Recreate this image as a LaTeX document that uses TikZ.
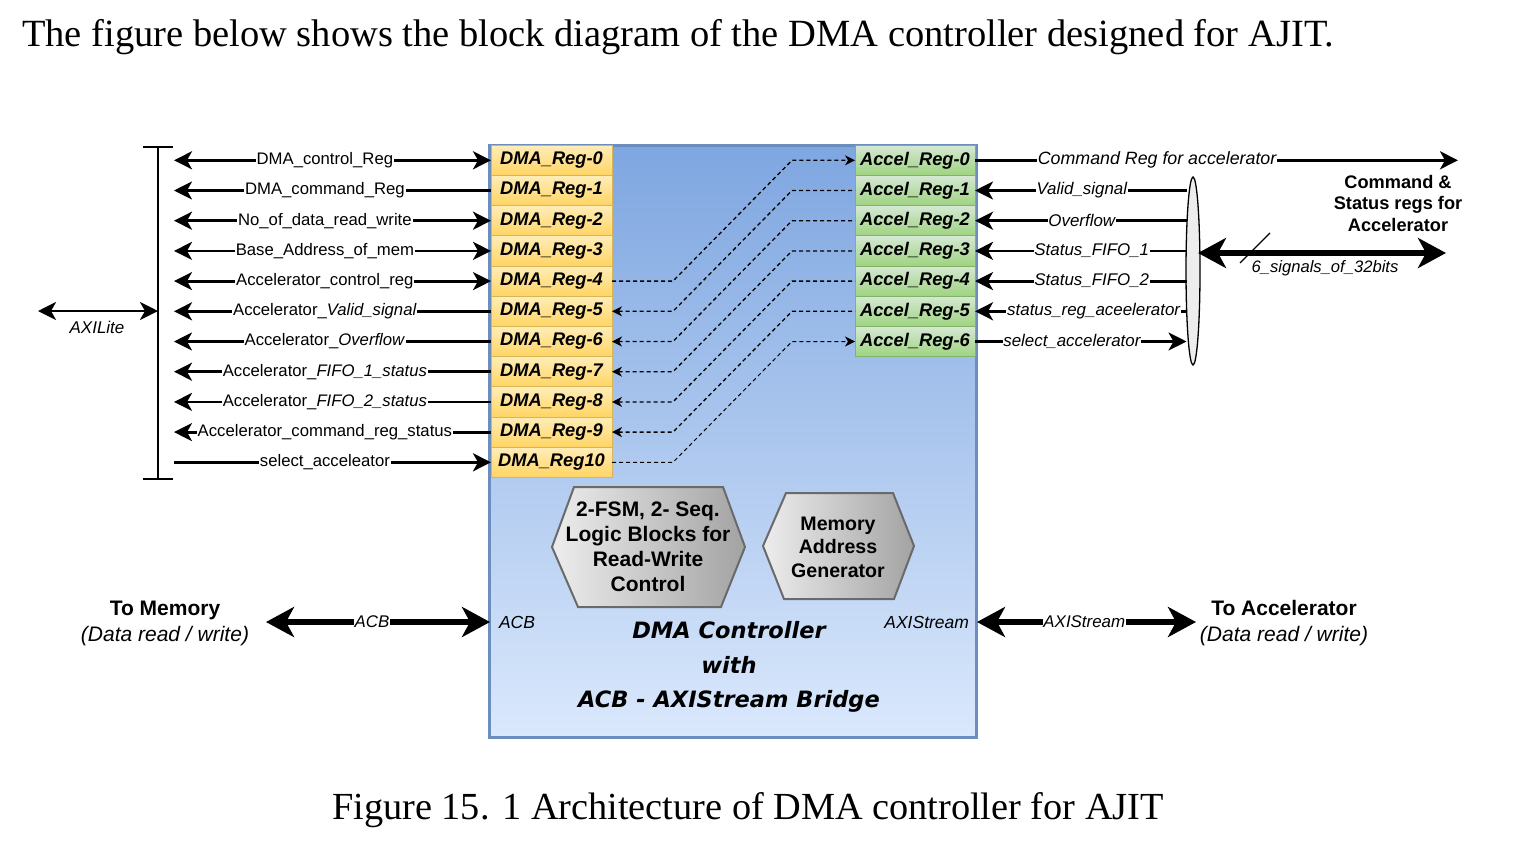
\documentclass[tikz,border=0pt]{standalone}
\usepackage{fontspec}
\setmainfont{Liberation Serif}
\setsansfont{Liberation Sans}
\newfontfamily\comicf{DejaVu Sans}
\usetikzlibrary{arrows.meta,shapes.geometric,calc}
\definecolor{boxB}{HTML}{6C8EBF}
\definecolor{boxTop}{HTML}{7EA6E0}
\definecolor{boxBot}{HTML}{DAE8FC}
\definecolor{yTop}{HTML}{FFEDB8}
\definecolor{yBot}{HTML}{FFD463}
\definecolor{yB}{HTML}{D6B656}
\definecolor{gTop}{HTML}{D5E8D4}
\definecolor{gBot}{HTML}{9ED37F}
\definecolor{gB}{HTML}{82B366}
\definecolor{hexL}{HTML}{EDEDED}
\definecolor{hexR}{HTML}{A3A3A3}
\definecolor{hexB}{HTML}{6A6A6A}
\definecolor{ellF}{HTML}{EDEDED}
\begin{document}
\begin{tikzpicture}[x=1pt,y=-1pt,
  every node/.style={inner sep=0pt,outer sep=0pt},
  >={Stealth[length=18pt,width=18pt,inset=5pt]},
  sig/.style={font=\sffamily\fontsize{16.7}{17}\selectfont,fill=white,inner sep=0.8pt},
  rsig/.style={font=\sffamily\itshape\fontsize{16.9}{17}\selectfont,fill=white,inner sep=0.8pt},
  wire/.style={line width=2.8pt},
  fat/.style={line width=5.5pt,arrows={Stealth[length=28pt,width=30pt,inset=8pt]-Stealth[length=28pt,width=30pt,inset=8pt]}},
  dsh/.style={line width=1.3pt,dash pattern=on 4pt off 3pt,arrows={-Stealth[length=10pt,width=10pt,inset=3pt]}},
  dshb/.style={line width=1.3pt,dash pattern=on 4pt off 3pt,arrows={Stealth[length=10pt,width=10pt,inset=3pt]-}},
  dmareg/.style={draw=yB,line width=0.8pt,top color=yTop,bottom color=yBot,minimum width=121pt,minimum height=30.2pt,
    font=\sffamily\bfseries\itshape\fontsize{18.3}{20}\selectfont},
  accreg/.style={draw=gB,line width=0.8pt,top color=gTop,bottom color=gBot,minimum width=120pt,minimum height=30.2pt,
    font=\sffamily\bfseries\itshape\fontsize{18.3}{20}\selectfont},
  hexbox/.style={draw=hexB,line width=2pt,shading=axis,shading angle=60,left color=hexL,right color=hexR},
  hextxt/.style={font=\sffamily\bfseries\fontsize{21}{25}\selectfont,align=center},
  port/.style={font=\sffamily\itshape\fontsize{17.5}{18}\selectfont},
  plain/.style={font=\sffamily\fontsize{21}{26}\selectfont,align=center}]
\useasboundingbox (0,0) rectangle (1538,852);
\fill[white] (0,0) rectangle (1538,852);

% title and caption
\node[anchor=west,font=\fontsize{38.5}{42}\selectfont] (title) at (22,37) {The figure below shows the block diagram of the DMA controller designed for AJIT.};
\node[font=\fontsize{38.3}{42}\selectfont] (caption) at (748,810) {Figure 15. 1 Architecture of DMA controller for AJIT};

% main box
\node[draw=boxB,line width=3pt,top color=boxTop,bottom color=boxBot,minimum width=487pt,minimum height=592pt] (main) at (732.5,441) {};

% DMA registers
\foreach \k/\t in {0/DMA\_Reg-0,1/DMA\_Reg-1,2/DMA\_Reg-2,3/DMA\_Reg-3,4/DMA\_Reg-4,5/DMA\_Reg-5,6/DMA\_Reg-6,7/DMA\_Reg-7,8/DMA\_Reg-8,9/DMA\_Reg-9,10/DMA\_Reg10}
  \node[dmareg] (d\k) at (551.5,{160.3+30.2*\k}) {\t};
% Accelerator registers
\foreach \k in {0,...,6}
  \node[accreg] (a\k) at (915,{160.3+30.2*\k}) {Accel\_Reg-\k};

% dashed connections
\draw[dsh] (d4.east) -- ($(d4.east)+(61,0)$) -- ($(a0.west)+(-63,0)$) -- (a0.west);
\foreach \k/\j in {5/1,6/2,7/3,8/4,9/5}
  \draw[dshb] (d\k.east) -- ($(d\k.east)+(61,0)$) -- ($(a\j.west)+(-63,0)$) -- (a\j.west);
\draw[dsh,line width=1pt] (d10.east) -- ($(d10.east)+(61,0)$) -- ($(a6.west)+(-63,0)$) -- (a6.west);

% AXILite bus bar
\coordinate (barT) at (158,147);
\coordinate (barB) at (158,479);
\draw[line width=1.5pt] (barT) -- (barB);
\draw[line width=1.5pt] ($(barT)+(-15,0)$) -- ($(barT)+(15,0)$);
\draw[line width=1.5pt] ($(barB)+(-15,0)$) -- ($(barB)+(15,0)$);
\coordinate (axl) at (38,311);
\coordinate (barM) at (158,311);
\draw[wire,<->] (axl) -- (barM);
\node[font=\sffamily\itshape\fontsize{17}{18}\selectfont] (axilite) at (97,327) {AXILite};

% left signal lines
\foreach \k/\dir/\t in {
  0/<->/DMA\_control\_Reg,
  1/<-/DMA\_command\_Reg,
  2/<->/No\_of\_data\_read\_write,
  3/<->/Base\_Address\_of\_mem,
  4/<->/Accelerator\_control\_reg,
  5/<-/Accelerator\_\textit{Valid\_signal},
  6/<-/Accelerator\_\textit{Overflow},
  7/<-/Accelerator\_\textit{FIFO\_1\_status},
  8/<-/Accelerator\_\textit{FIFO\_2\_status},
  9/<-/Accelerator\_command\_reg\_status,
  10/->/select\_acceleator}
{
  \coordinate (l\k) at (174,{160.3+30.2*\k});
  \draw[wire,\dir] (l\k) -- node[sig,pos=0.476] (ls\k) {\t} (d\k.west);
}

% ellipse (bundle)
\node[ellipse,draw,line width=1.3pt,fill=ellF,minimum width=14pt,minimum height=188pt] (el) at (1193,271) {};
\foreach \k in {1,...,6}
  \coordinate (e\k) at (1186.5,{160.3+30.2*\k});

% right signal lines
\coordinate (cmdEnd) at (1458,160.3);
\draw[wire,->] (a0.east) -- node[rsig,pos=0.377,font=\sffamily\itshape\fontsize{17.8}{18}\selectfont] (rs0) {Command Reg for accelerator} (cmdEnd);
\draw[wire,<-] (a1.east) -- node[rsig,pos=0.505] (rs1) {Valid\_signal} (e1);
\draw[wire,<-] (a2.east) -- node[rsig,pos=0.505] (rs2) {Overflow} (e2);
\draw[wire,<-] (a3.east) -- node[rsig,pos=0.552] (rs3) {Status\_FIFO\_1} (e3);
\draw[wire,<-] (a4.east) -- node[rsig,pos=0.552] (rs4) {Status\_FIFO\_2} (e4);
\draw[wire,<-] (a5.east) -- node[rsig,pos=0.561] (rs5) {status\_reg\_aceelerator} (e5);
\draw[wire,->] (a6.east) -- node[rsig,pos=0.458] (rs6) {select\_accelerator} (e6);

% 6 signals bus
\coordinate (busL) at (1198,253);
\coordinate (busR) at (1446,253);
\draw[fat] (busL) -- (busR);
\draw[line width=1.2pt] (1240,263) -- (1270,233);
\node[font=\sffamily\itshape\fontsize{16.6}{17}\selectfont] (buslbl) at (1325,268) {6\_signals\_of\_32bits};
\node[font=\sffamily\bfseries\fontsize{18.2}{21.5}\selectfont,align=center] (csr) at (1398,203) {Command \&\\Status regs for\\Accelerator};

% hexagons
\path[hexbox] (552,547) -- (574,487) -- (723,487) -- (745,547) -- (721,607) -- (578,607) -- cycle;
\node[hextxt] (fsm) at (648,547) {2-FSM, 2- Seq.\\Logic Blocks for\\Read-Write\\Control};
\path[hexbox] (763,546) -- (786,493) -- (893,493) -- (914,546) -- (894,599) -- (784,599) -- cycle;
\node[hextxt,font=\sffamily\bfseries\fontsize{19.6}{23.5}\selectfont] (mag) at (838,547) {Memory\\Address\\Generator};

% DMA controller title
\node[font=\comicf\bfseries\itshape\fontsize{22.5}{34.5}\selectfont,align=center] (dmac) at (729,667) {DMA Controller\\with\\ACB - AXIStream Bridge};

% port labels
\node[port,anchor=west] (acbp) at (499,622) {ACB};
\node[port,anchor=east] (axsp) at (969,622) {AXIStream};

% memory side
\coordinate (memR) at (266,622);
\coordinate (mainW) at (490,622);
\draw[fat] (memR) -- node[rsig,pos=0.473] (acbl) {ACB} (mainW);
\node[plain] (tomem) at (165,623) {\textbf{To Memory}\\\textit{(Data read / write)}};

% accelerator side
\coordinate (mainE) at (977,622);
\coordinate (accL) at (1196,622);
\draw[fat] (mainE) -- node[rsig,pos=0.49] (axsl) {AXIStream} (accL);
\node[plain] (toacc) at (1284,623) {\textbf{To Accelerator}\\\textit{(Data read / write)}};
\end{tikzpicture}
\end{document}
